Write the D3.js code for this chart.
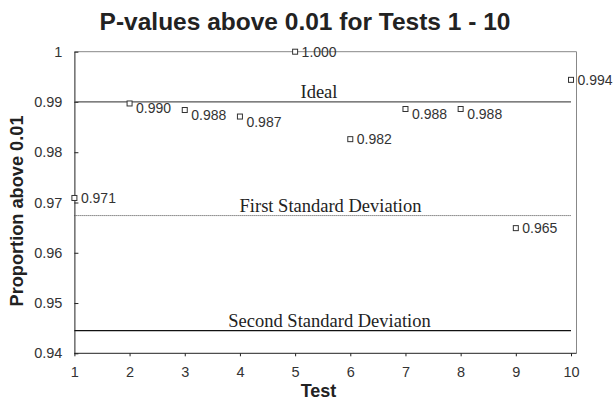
<!DOCTYPE html>
<html>
<head>
<meta charset="utf-8">
<script src="https://cdn.jsdelivr.net/npm/d3@7"></script>
<style>
  html, body { margin: 0; padding: 0; background: #fff; }
  svg { display: block; }
</style>
</head>
<body>
<svg id="chart" width="616" height="402"></svg>
<script>
// ---- data ----
const tests = [1, 2, 3, 4, 5, 6, 7, 8, 9, 10];
const proportions = [0.9709, 0.9897, 0.9884, 0.9871, 1.000, 0.9826, 0.9886, 0.9886, 0.9649, 0.9944];
const pointLabels = ["0.971", "0.990", "0.988", "0.987", "1.000", "0.982", "0.988", "0.988", "0.965", "0.994"];
const refNames = ["Ideal", "First Standard Deviation", "Second Standard Deviation"];
const refValues = [0.99, 0.9674, 0.9445];
const yTicks = [0.94, 0.95, 0.96, 0.97, 0.98, 0.99, 1];
const xTicks = [1, 2, 3, 4, 5, 6, 7, 8, 9, 10];

// ---- layout ----
const svg = d3.select("#chart");
const mLeft = 74.4, mRight = 571, mTop = 51.7, mBottom = 353.3, frameRight = 576.5;
const x = d3.scaleLinear().domain([1, 10]).range([mLeft, mRight]);
const y = d3.scaleLinear().domain([0.94, 1]).range([mBottom, mTop]);
const sans = "Liberation Sans, Arial, sans-serif";

// title
svg.append("text")
  .attr("x", 305).attr("y", 30)
  .attr("text-anchor", "middle")
  .attr("font-family", sans)
  .attr("font-weight", "bold").attr("font-size", 24.5)
  .attr("fill", "#222")
  .text("P-values above 0.01 for Tests 1 - 10");

// frame: top and right border
svg.append("line").attr("x1", mLeft).attr("x2", frameRight).attr("y1", mTop).attr("y2", mTop)
  .attr("stroke", "#888").attr("stroke-width", 1);
svg.append("line").attr("x1", frameRight).attr("x2", frameRight).attr("y1", mTop).attr("y2", mBottom)
  .attr("stroke", "#888").attr("stroke-width", 1);

// y axis
const yAxis = svg.append("g").attr("transform", `translate(${mLeft},0)`)
  .call(d3.axisLeft(y).tickValues(yTicks).tickSizeInner(-4).tickSizeOuter(0)
    .tickFormat(d => d === 1 ? "1" : d3.format(".2f")(d)));
yAxis.select(".domain").attr("stroke", "#222");
yAxis.selectAll(".tick line").attr("stroke", "#222");
yAxis.selectAll(".tick text")
  .attr("x", -12)
  .attr("font-family", sans)
  .attr("font-size", 14.5).attr("fill", "#333");

// x axis
const xAxis = svg.append("g").attr("transform", `translate(0,${mBottom})`)
  .call(d3.axisBottom(x).tickValues(xTicks).tickSizeInner(3).tickSizeOuter(0).tickFormat(d3.format("d")));
xAxis.select(".domain").attr("d", `M${mLeft},0H${frameRight}`).attr("stroke", "#222");
xAxis.selectAll(".tick line").attr("stroke", "#222");
xAxis.selectAll(".tick text")
  .attr("y", 14).attr("dy", "0.66em")
  .attr("font-family", sans)
  .attr("font-size", 14.5).attr("fill", "#333");

// axis titles
svg.append("text")
  .attr("x", 318.5).attr("y", 397)
  .attr("text-anchor", "middle")
  .attr("font-family", sans)
  .attr("font-weight", "bold").attr("font-size", 18).attr("fill", "#222")
  .text("Test");
svg.append("text")
  .attr("transform", `translate(22.5,211) rotate(-90)`)
  .attr("text-anchor", "middle")
  .attr("font-family", sans)
  .attr("font-weight", "bold").attr("font-size", 18.2).attr("fill", "#222")
  .text("Proportion above 0.01");

// reference lines
const refStyles = [
  { stroke: "#555", width: 1.3, dash: null, cx: 319 },
  { stroke: "#444", width: 1, dash: "1,1", cx: 330.5 },
  { stroke: "#111", width: 1.2, dash: null, cx: 329.5 }
];
refValues.forEach((v, i) => {
  const st = refStyles[i];
  svg.append("line")
    .attr("x1", x(1)).attr("x2", x(10)).attr("y1", y(v)).attr("y2", y(v))
    .attr("stroke", st.stroke).attr("stroke-width", st.width)
    .attr("stroke-dasharray", st.dash);
  svg.append("text")
    .attr("x", st.cx).attr("y", y(v) - 4)
    .attr("text-anchor", "middle")
    .attr("font-family", "Liberation Serif, Times New Roman, serif")
    .attr("font-size", 18.5).attr("fill", "#222")
    .text(refNames[i]);
});

// points
const pts = tests.map((t, i) => ({ t, v: proportions[i], label: pointLabels[i] }));
const ms = 5;
svg.append("g").selectAll("rect").data(pts).join("rect")
  .attr("x", d => x(d.t) - ms / 2).attr("y", d => y(d.v) - ms / 2)
  .attr("width", ms).attr("height", ms)
  .attr("fill", "#fff").attr("stroke", "#333").attr("stroke-width", 1);

// point labels: pushed down when just below the Ideal line
svg.append("g").selectAll("text").data(pts).join("text")
  .attr("x", d => x(d.t) + 6.5)
  .attr("y", d => {
    const gap = y(d.v) - y(refValues[0]);
    return y(d.v) + 5 + (gap > 0 && gap < 20 ? 5 : 0);
  })
  .attr("font-family", sans)
  .attr("font-size", 14).attr("fill", "#333")
  .text(d => d.label);
</script>
</body>
</html>
